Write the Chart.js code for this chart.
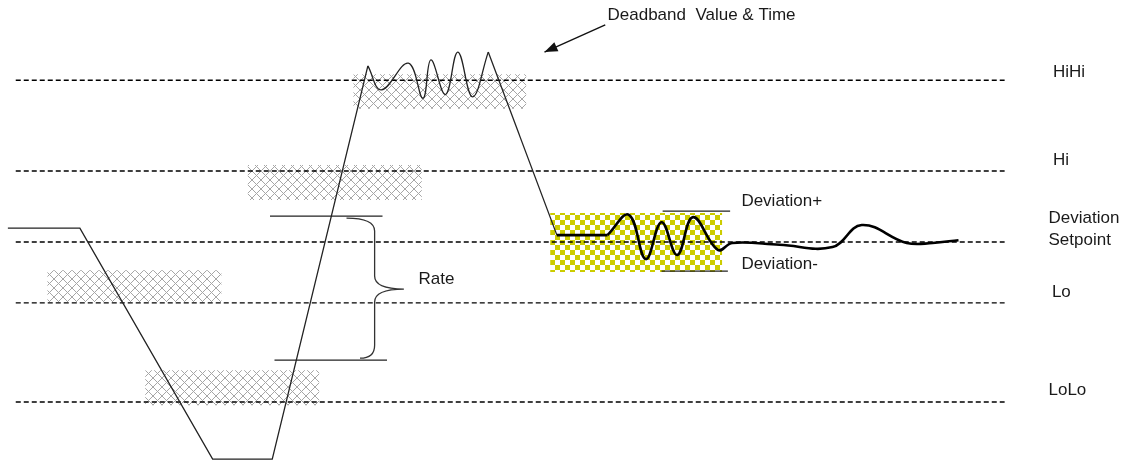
<!DOCTYPE html>
<html>
<head>
<meta charset="utf-8">
<script src="https://cdn.jsdelivr.net/npm/chart.js@4"></script>
<style>
  html, body { margin: 0; padding: 0; background: #fff; }
  #chart { display: block; }
</style>
</head>
<body>
<canvas id="chart" width="1125" height="461"></canvas>
<script>
// x = time, y = process value (0..100)
const levelNames = ['HiHi', 'Hi', 'Setpoint', 'Lo', 'LoLo'];
const levelValues = [82.6, 62.9, 47.5, 34.3, 12.8];
const levelSpan = [1.4, 89.3];

const startTrace = [[0.7, 50.5], [7.1, 50.5], [18.9, 0.4], [24.2, 0.4], [32.7, 85.7]];
const deadbandWiggle = [[32.7, 85.7], [33.9, 80.5], [36.3, 86.3], [37.6, 78.7], [38.3, 87.0],
  [39.6, 79.5], [40.7, 88.7], [42.0, 79.0], [43.4, 88.7]];
const descent = [[43.4, 88.7], [49.5, 49.0]];
const holdTrace = [[49.5, 49.0], [54.0, 49.0]];
const deviationWave = [[54.0, 49.0], [55.9, 53.4], [57.4, 43.8], [58.8, 51.8], [60.2, 44.7],
  [61.6, 52.9], [63.8, 45.8], [65.1, 47.3], [69.3, 46.9], [74.0, 46.4], [76.6, 51.2],
  [80.6, 47.3], [82.9, 47.3], [85.2, 47.9]];

const rateTop = [[24.0, 53.1], [34.0, 53.1]];
const rateBottom = [[24.4, 21.9], [34.4, 21.9]];
const devPlus = [[58.9, 54.2], [64.9, 54.2]];
const devMinus = [[58.8, 41.2], [64.7, 41.2]];

// x0, x1, bottom, top
const hatchBoxes = [[31.4, 46.8, 76.4, 83.9], [22.0, 37.5, 56.6, 64.2], [4.2, 19.7, 34.5, 41.4], [12.9, 28.4, 12.1, 19.7]];
const deviationBox = [48.9, 64.2, 41.0, 53.8];

// brace: spine x, tip x, top y, bottom y, tip y, top end x, bottom end x
const brace = [33.3, 35.9, 52.7, 22.3, 37.3, 30.8, 32.0];

const labels = ['HiHi', 'Hi', 'Deviation', 'Setpoint', 'Lo', 'LoLo', 'Deviation+', 'Deviation-', 'Rate', 'Deadband  Value & Time'];
const labelX = [93.6, 93.6, 93.2, 93.2, 93.5, 93.2, 65.9, 65.9, 37.2, 54.0];
const labelY = [84.4, 65.3, 52.7, 47.9, 36.7, 15.4, 56.4, 42.7, 39.5, 96.7];
const arrow = [[53.8, 94.6], [48.4, 88.7]];

function pts(arr) { return arr.map(p => ({ x: p[0], y: p[1] })); }

function hatchPattern() {
  const c = document.createElement('canvas');
  c.width = 9; c.height = 9;
  const g = c.getContext('2d');
  g.strokeStyle = '#a6a6a6';
  g.lineWidth = 1;
  g.beginPath();
  g.moveTo(0, 0); g.lineTo(9, 9);
  g.moveTo(9, 0); g.lineTo(0, 9);
  g.stroke();
  return g.createPattern(c, 'repeat');
}

function checkerPattern() {
  const c = document.createElement('canvas');
  c.width = 10; c.height = 10;
  const g = c.getContext('2d');
  g.fillStyle = '#fff';
  g.fillRect(0, 0, 10, 10);
  g.fillStyle = '#cccc00';
  g.fillRect(0, 0, 5, 5);
  g.fillRect(5, 5, 5, 5);
  return g.createPattern(c, 'repeat');
}

const datasets = [];
const hatch = hatchPattern();
hatchBoxes.forEach(b => {
  datasets.push({ data: pts([[b[0], b[3]], [b[1], b[3]]]), fill: { value: b[2] },
    backgroundColor: hatch, borderWidth: 0, order: 10 });
});
datasets.push({ data: pts([[deviationBox[0], deviationBox[3]], [deviationBox[1], deviationBox[3]]]),
  fill: { value: deviationBox[2] }, backgroundColor: checkerPattern(), borderWidth: 0, order: 10 });

levelValues.forEach(v => {
  datasets.push({ data: pts([[levelSpan[0], v], [levelSpan[1], v]]), borderColor: '#000',
    borderWidth: 1.4, borderDash: [5, 3], order: 5 });
});

const thin = { borderColor: '#222', borderWidth: 1.3, order: 1 };
datasets.push({ ...thin, data: pts(startTrace) });
datasets.push({ ...thin, data: pts(deadbandWiggle), tension: 0.4 });
datasets.push({ ...thin, data: pts(descent) });
datasets.push({ ...thin, data: pts(rateTop) });
datasets.push({ ...thin, data: pts(rateBottom) });
datasets.push({ ...thin, data: pts(devPlus) });
datasets.push({ ...thin, data: pts(devMinus) });
datasets.push({ data: pts(holdTrace), borderColor: '#000', borderWidth: 2.6, order: 0 });
datasets.push({ data: pts(deviationWave), borderColor: '#000', borderWidth: 2.6, tension: 0.4, order: 0 });

const annotations = {
  id: 'annotations',
  afterDatasetsDraw(chart) {
    const ctx = chart.ctx;
    const xs = chart.scales.x, ys = chart.scales.y;
    const px = v => xs.getPixelForValue(v), py = v => ys.getPixelForValue(v);
    ctx.save();

    // brace
    const sx = px(brace[0]), tx = px(brace[1]), top = py(brace[2]), bot = py(brace[3]), tip = py(brace[4]);
    const r = 13;
    ctx.strokeStyle = '#333';
    ctx.lineWidth = 1.3;
    ctx.beginPath();
    ctx.moveTo(px(brace[5]), top);
    ctx.quadraticCurveTo(sx, top, sx, top + r);
    ctx.lineTo(sx, tip - r);
    ctx.quadraticCurveTo(sx, tip, tx, tip);
    ctx.quadraticCurveTo(sx, tip, sx, tip + r);
    ctx.lineTo(sx, bot - r);
    ctx.quadraticCurveTo(sx, bot, px(brace[6]), bot);
    ctx.stroke();

    // arrow
    const ax0 = px(arrow[0][0]), ay0 = py(arrow[0][1]), ax1 = px(arrow[1][0]), ay1 = py(arrow[1][1]);
    ctx.strokeStyle = '#111';
    ctx.lineWidth = 1.4;
    ctx.beginPath();
    ctx.moveTo(ax0, ay0);
    ctx.lineTo(ax1, ay1);
    ctx.stroke();
    const ang = Math.atan2(ay1 - ay0, ax1 - ax0);
    ctx.fillStyle = '#111';
    ctx.beginPath();
    ctx.moveTo(ax1, ay1);
    ctx.lineTo(ax1 - 13 * Math.cos(ang) + 5 * Math.sin(ang), ay1 - 13 * Math.sin(ang) - 5 * Math.cos(ang));
    ctx.lineTo(ax1 - 13 * Math.cos(ang) - 5 * Math.sin(ang), ay1 - 13 * Math.sin(ang) + 5 * Math.cos(ang));
    ctx.closePath();
    ctx.fill();

    // labels
    ctx.font = '17px "Liberation Sans", Arial, sans-serif';
    ctx.fillStyle = '#1a1a1a';
    ctx.textAlign = 'left';
    ctx.textBaseline = 'middle';
    labels.forEach((t, i) => ctx.fillText(t, px(labelX[i]), py(labelY[i])));
    ctx.restore();
  }
};

new Chart(document.getElementById('chart'), {
  type: 'line',
  data: { datasets },
  options: {
    responsive: false,
    devicePixelRatio: 1,
    animation: false,
    layout: { padding: 0 },
    elements: { point: { radius: 0 }, line: { borderCapStyle: 'butt' } },
    scales: {
      x: { type: 'linear', min: 0, max: 100, display: false },
      y: { type: 'linear', min: 0, max: 100, display: false }
    },
    plugins: { legend: { display: false }, tooltip: { enabled: false } }
  },
  plugins: [annotations]
});
</script>
</body>
</html>
